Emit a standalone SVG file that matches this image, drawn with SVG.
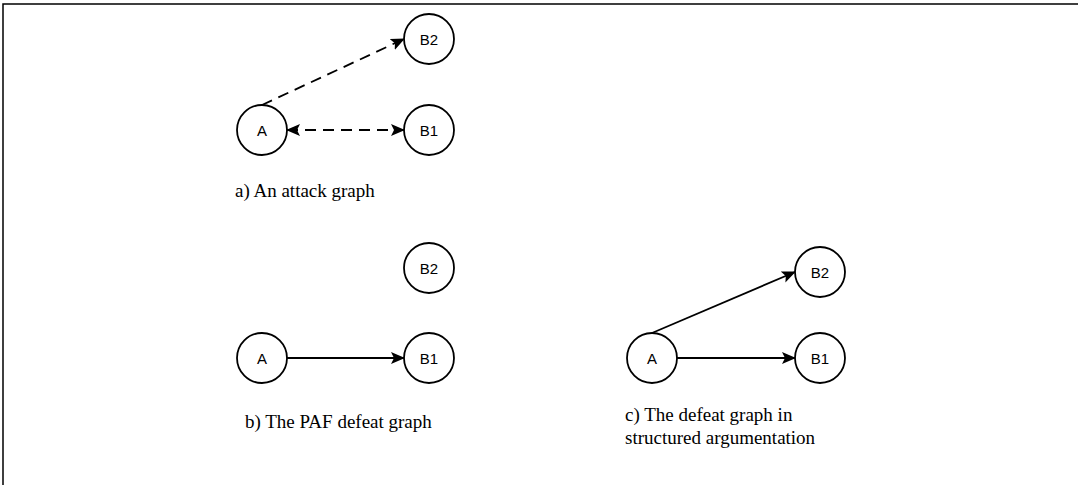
<svg xmlns="http://www.w3.org/2000/svg" width="1078" height="485" viewBox="0 0 1078 485">
<style>
.node circle{fill:#fff;stroke:#000;stroke-width:1.8}
.node text{font-family:"Liberation Sans",Arial,sans-serif;font-size:15px;text-anchor:middle;dominant-baseline:central;fill:#000}
.cap{font-family:"Liberation Serif","Times New Roman",serif;font-size:19px;fill:#000}
.edge{fill:none;stroke:#000;stroke-width:1.8}
.dash{stroke-dasharray:11 7}
</style>
<defs>
<marker id="ah" viewBox="0 0 14 12" refX="13" refY="6" markerWidth="14" markerHeight="12" markerUnits="userSpaceOnUse" orient="auto-start-reverse">
<path d="M0,0 L14,6 L0,12 L3,6 Z" fill="#000"/>
</marker>
</defs>
<path d="M3,485 V4 H1078" fill="none" stroke="#000" stroke-width="1.5"/>
<g id="connectors">
<path class="edge dash" d="M262,105 L404,39" marker-end="url(#ah)"/>
<path class="edge dash" d="M287,130 L404,130" marker-start="url(#ah)" marker-end="url(#ah)"/>
<path class="edge" d="M287,358 L404,358" marker-end="url(#ah)"/>
<path class="edge" d="M652,333 L795,272" marker-end="url(#ah)"/>
<path class="edge" d="M677,358 L795,358" marker-end="url(#ah)"/>
</g>
<g id="a-A" class="node"><circle cx="262" cy="130" r="25"/><text x="262" y="130">A</text></g>
<g id="a-B1" class="node"><circle cx="429" cy="130" r="25"/><text x="429" y="130">B1</text></g>
<g id="a-B2" class="node"><circle cx="429" cy="39" r="25"/><text x="429" y="39">B2</text></g>
<g id="b-A" class="node"><circle cx="262" cy="358" r="25"/><text x="262" y="358">A</text></g>
<g id="b-B1" class="node"><circle cx="429" cy="358" r="25"/><text x="429" y="358">B1</text></g>
<g id="b-B2" class="node"><circle cx="429" cy="268" r="25"/><text x="429" y="268">B2</text></g>
<g id="c-A" class="node"><circle cx="652" cy="358" r="25"/><text x="652" y="358">A</text></g>
<g id="c-B1" class="node"><circle cx="820" cy="358" r="25"/><text x="820" y="358">B1</text></g>
<g id="c-B2" class="node"><circle cx="820" cy="272" r="25"/><text x="820" y="272">B2</text></g>
<text class="cap" x="235" y="197">a) An attack graph</text>
<text class="cap" x="245" y="428">b) The PAF defeat graph</text>
<text class="cap" x="625" y="421">c) The defeat graph in</text>
<text class="cap" x="625" y="444">structured argumentation</text>
</svg>
